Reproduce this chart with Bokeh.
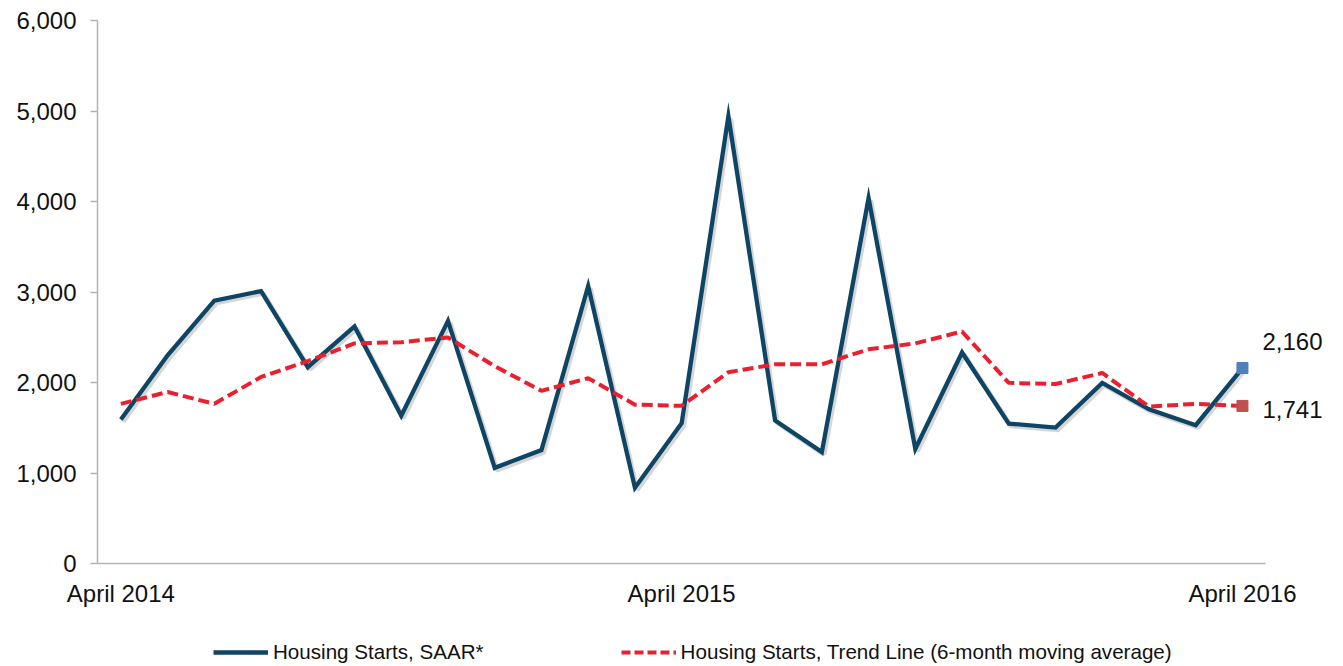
import numpy as np
from bokeh.plotting import figure
from bokeh.layouts import column
from bokeh.models import (ColumnDataSource, FixedTicker, NumeralTickFormatter,
                          Legend, LegendItem, Range1d)
from bokeh.core.properties import value
from bokeh.embed import file_html
from bokeh.resources import INLINE

# ---- data ----
months = ["Apr 2014", "May 2014", "Jun 2014", "Jul 2014", "Aug 2014", "Sep 2014",
          "Oct 2014", "Nov 2014", "Dec 2014", "Jan 2015", "Feb 2015", "Mar 2015",
          "Apr 2015", "May 2015", "Jun 2015", "Jul 2015", "Aug 2015", "Sep 2015",
          "Oct 2015", "Nov 2015", "Dec 2015", "Jan 2016", "Feb 2016", "Mar 2016",
          "Apr 2016"]
saar = [1590, 2300, 2905, 3010, 2170, 2620, 1633, 2681, 1057, 1253, 3066, 838,
        1550, 4943, 1581, 1231, 4039, 1266, 2332, 1546, 1502, 1996, 1703, 1528, 2160]
trend = [1764, 1895, 1764, 2061, 2236, 2432, 2445, 2498, 2180, 1908, 2048, 1755,
         1742, 2114, 2201, 2201, 2367, 2432, 2563, 1996, 1983, 2105, 1734, 1764, 1741]
x_tick_labels = {0: "April 2014", 12: "April 2015", 24: "April 2016"}
y_ticks = [0, 1000, 2000, 3000, 4000, 5000, 6000]
series_names = ["Housing Starts, SAAR*",
                "Housing Starts, Trend Line (6-month moving average)"]

NAVY = "#0E4565"
RED = "#E8202F"
FONT = "Liberation Sans"
SHADOW_DX, SHADOW_DY = 0.045, -25

n = len(months)
x = np.arange(n)
src = ColumnDataSource(dict(x=x, saar=saar, trend=trend,
                            sx=x + SHADOW_DX, sy=np.array(saar) + SHADOW_DY))

W = 1327
p = figure(width=W, height=620, output_backend="svg", toolbar_location=None,
           x_range=Range1d(-0.5, n - 0.5 + 1.32), y_range=Range1d(0, 6000),
           min_border_left=97, min_border_right=0, min_border_top=20,
           min_border_bottom=57)
p.outline_line_color = None
p.xgrid.visible = False
p.ygrid.visible = False
p.background_fill_color = "white"
p.border_fill_color = "white"

# shadow
p.line("sx", "sy", source=src, line_color="#000000", line_alpha=0.16, line_width=5)
r1 = p.line("x", "saar", source=src, line_color=NAVY, line_width=4.3,
            line_join="miter")
r2 = p.line("x", "trend", source=src, line_color=RED, line_width=4,
            line_dash="11 5")

last = n - 1
p.scatter([last], [saar[-1]], marker="square", size=11, color="#4F81BD")
p.scatter([last], [trend[-1]], marker="square", size=11, color="#C0504D")
p.text([last], [saar[-1]], text=[f"{saar[-1]:,}"], x_offset=20, y_offset=-27,
       text_font=value(FONT), text_font_size="24px", text_baseline="middle",
       text_color="#111111")
p.text([last], [trend[-1]], text=[f"{trend[-1]:,}"], x_offset=20, y_offset=4,
       text_font=value(FONT), text_font_size="24px", text_baseline="middle",
       text_color="#111111")

# axes
xa = p.xaxis[0]
xa.ticker = FixedTicker(ticks=list(x_tick_labels.keys()))
xa.major_label_overrides = x_tick_labels
xa.bounds = (-0.5, n - 0.5)
xa.major_tick_out = 0
xa.major_tick_in = 0
xa.minor_tick_out = 0
xa.minor_tick_in = 0
xa.axis_line_color = "#B3B3B3"
xa.axis_line_width = 1.5
xa.major_label_text_font = FONT
xa.major_label_text_font_size = "24px"
xa.major_label_text_color = "#111111"
xa.major_label_standoff = 16

ya = p.yaxis[0]
ya.ticker = FixedTicker(ticks=y_ticks)
ya.formatter = NumeralTickFormatter(format="0,0")
ya.major_tick_out = 7
ya.major_tick_in = 0
ya.minor_tick_out = 0
ya.minor_tick_in = 0
ya.major_tick_line_color = "#B3B3B3"
ya.major_tick_line_width = 1.5
ya.axis_line_color = "#B3B3B3"
ya.axis_line_width = 1.5
ya.major_label_text_font = FONT
ya.major_label_text_font_size = "24px"
ya.major_label_text_color = "#111111"
ya.major_label_standoff = 14

# ---- legend strip (its own small plot; sample lines lie outside its range) ----
lg = figure(width=W, height=46, output_backend="svg", toolbar_location=None,
            x_axis_type=None, y_axis_type=None,
            x_range=Range1d(0, 1), y_range=Range1d(0, 1),
            min_border_left=0, min_border_right=0, min_border_top=0,
            min_border_bottom=0)
lg.outline_line_color = None
lg.xgrid.visible = False
lg.ygrid.visible = False
l1 = lg.line(x=[5, 6], y=[5, 5], line_color=NAVY, line_width=4.3)
l2 = lg.line(x=[5, 6], y=[5, 5], line_color=RED, line_width=4, line_dash="9 4")
legend = Legend(items=[LegendItem(label=series_names[0], renderers=[l1]),
                       LegendItem(label=series_names[1], renderers=[l2])],
                orientation="horizontal", location=(116, 2),
                glyph_width=55, glyph_height=20, label_standoff=5,
                spacing=137, padding=0, margin=0,
                label_text_font=FONT, label_text_font_size="20.6px",
                label_text_color="#111111",
                border_line_alpha=0, background_fill_alpha=0)
lg.add_layout(legend, "center")

layout = column(p, lg, spacing=0)
open("out.html", "w").write(file_html(layout, INLINE))
